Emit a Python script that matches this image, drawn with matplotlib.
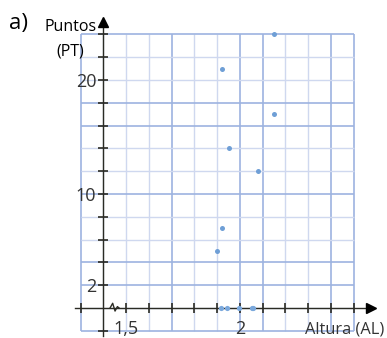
import numpy as np
import matplotlib.pyplot as plt

plt.rcParams['font.family'] = ['Open Sans', 'DejaVu Sans']

# datos
altura = [1.90, 1.92, 1.92, 1.95, 2.08, 2.15, 2.15]
puntos = [5, 7, 21, 14, 12, 17, 24]
# puntos dibujados sobre el eje horizontal
altura_eje = [1.915, 1.945, 1.995, 2.052, 2.058]

x_ticks = [1.3, 1.5, 1.6, 1.7, 1.8, 1.9, 2.0, 2.1, 2.2, 2.3, 2.4, 2.5]
x_labels = ['', '1,5', '', '', '', '', '2', '', '', '', '', '']
y_ticks = [-2, 2, 4, 6, 8, 10, 12, 14, 16, 18, 20, 22, 24]
y_labels = ['', '2', '', '', '', '10', '', '', '', '', '20', '', '']

# cuadrícula
x_grid = np.round(np.arange(1.3, 2.51, 0.1), 1)
y_grid = np.arange(-2, 25, 2)
x_grid_fuerte = [1.3, 1.7, 2.0, 2.1, 2.4, 2.5]
y_grid_fuerte = [-2, 2, 4, 10, 16, 18, 24]

azul_claro = '#cfd8ef'
azul_fuerte = '#9db3e0'
negro = '#2b2b24'
texto = '#333333'

fig = plt.figure(figsize=(3.87, 3.38), dpi=100)
ax = fig.add_axes([0, 0, 1, 1])
ax.set_xlim(0.9453, 2.6464)
ax.set_ylim(-2.632, 27.02)
ax.patch.set_alpha(0)

for xg in x_grid:
    fuerte = xg in x_grid_fuerte
    ax.vlines(xg, -2, 24, color=azul_fuerte if fuerte else azul_claro,
              lw=1.2 if fuerte else 1.0, zorder=1)
for yg in y_grid:
    fuerte = yg in y_grid_fuerte
    ax.hlines(yg, 1.3, 2.5, color=azul_fuerte if fuerte else azul_claro,
              lw=1.2 if fuerte else 1.0, zorder=1)

# ejes
for s in ['top', 'right']:
    ax.spines[s].set_visible(False)
ax.spines['left'].set_position(('data', 1.4))
ax.spines['bottom'].set_position(('data', 0))
ax.spines['left'].set_bounds(-2.5, 25.0)
ax.spines['bottom'].set_bounds(1.275, 2.56)
for s in ['left', 'bottom']:
    ax.spines[s].set_color(negro)
    ax.spines[s].set_linewidth(1.0)
    ax.spines[s].set_zorder(3)
ax.plot([1.4], [25.1], marker='^', ms=7, color='black', clip_on=False, zorder=4)
ax.plot([2.575], [0], marker='>', ms=7, color='black', clip_on=False, zorder=4)

ax.set_xticks(x_ticks, labels=x_labels)
ax.set_yticks(y_ticks, labels=y_labels)
ax.tick_params(axis='both', direction='inout', length=7.5, width=1.2,
               color=negro, labelcolor=texto, labelsize=13)
ax.tick_params(axis='x', pad=5)
ax.tick_params(axis='y', pad=1.5)

# corte del eje (en puntos, junto al eje)
zx = np.array([0, 1.9, 3.6, 5.3, 6.5])
zy = np.array([0, 3.4, -2.2, 1.0, 0])
base = ax.transData.transform((1.429, 0))
pts = np.column_stack([base[0] + zx * fig.dpi / 72, base[1] + zy * fig.dpi / 72])
ax.plot(pts[:, 0], pts[:, 1], color=negro, lw=1.0, transform=None, zorder=4)

# datos
ax.scatter(altura, puntos, s=13, color='#6f9fd6', zorder=5, linewidths=0)
ax.scatter(altura_eje, [0] * len(altura_eje), s=14, color='#7aa8dc', zorder=5,
           linewidths=0, clip_on=False)

# textos
fig.text(19 / 387, 1 - 23 / 338, 'a)', fontsize=16, color='black', ha='center', va='center')
fig.text(71 / 387, 1 - 27 / 338, 'Puntos', fontsize=11.5, color='black', ha='center', va='center')
fig.text(70 / 387, 1 - 51 / 338, '(PT)', fontsize=11.5, color='black', ha='center', va='center')
fig.text(345 / 387, 1 - 330 / 338, 'Altura (AL)', fontsize=11.8, color=texto, ha='center', va='center')

fig.savefig('out.png', dpi=100)
